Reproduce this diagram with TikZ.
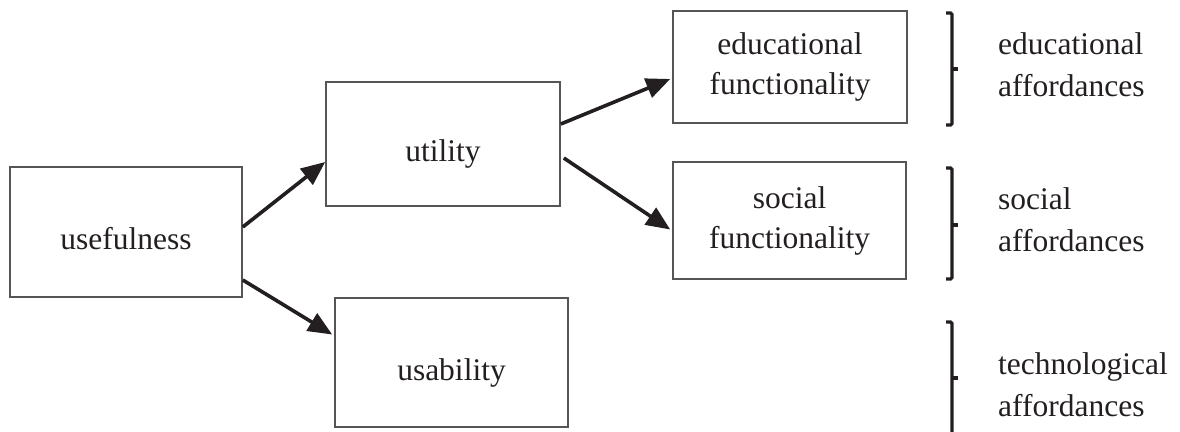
\documentclass[tikz,border=0pt]{standalone}
\usepackage{fontspec}
\setmainfont{Liberation Serif}
\usetikzlibrary{arrows.meta,calc}
\definecolor{ink}{RGB}{35,31,32}
\definecolor{frame}{RGB}{85,85,85}
\begin{document}
\begin{tikzpicture}[x=1pt,y=-1pt,
  txt/.style={font=\fontsize{31.5}{40}\selectfont, text=ink},
  box/.style={txt, draw=frame, line width=1.6pt, align=center, inner sep=0pt},
  oneline/.style={text height=35pt, text depth=0pt},
  link/.style={draw=ink, line width=3.6pt, -{Triangle[length=24pt,width=20pt]}},
  brace/.style={draw=ink, line width=3.2pt, rounded corners=1.5pt},
  aff/.style={font=\fontsize{31.5}{42}\selectfont, text=ink, align=left, anchor=west, inner sep=0pt}]
\useasboundingbox (0,0) rectangle (1180,431);

% boxes
\node[box, oneline, minimum width=232pt, minimum height=130pt] (useful) at (126,232) {usefulness};
\node[box, oneline, minimum width=234pt, minimum height=124pt] (utility) at (443,144) {utility};
\node[box, oneline, minimum width=233pt, minimum height=129pt] (usability) at (451.5,362.5) {usability};
\node[box, minimum width=234pt, minimum height=112pt] (edu) at (790,67) {educational\\functionality};
\node[box, minimum width=233pt, minimum height=117pt] (social) at (789.5,220.5) {social\\functionality};

% arrows
\draw[link] ($(useful.east)+(0,-5)$) -- ($(utility.west)+(0,18)$);
\draw[link] ($(useful.east)+(0,48)$) -- ($(usability.west)+(-2,-28)$);
\draw[link] ($(utility.east)+(0,-20)$) -- ($(edu.west)+(-2,12)$);
\draw[link] ($(utility.east)+(3,14)$) -- ($(social.west)+(-2,9)$);

% brackets
\draw[brace] (946,13) -- (952,13) -- (952,125) -- (946,125);
\draw[brace] (952,69) -- (958,69);
\draw[brace] (946,168) -- (952,168) -- (952,279) -- (946,279);
\draw[brace] (952,225) -- (958,225);
\draw[brace] (946,322) -- (952,322) -- (952,440);
\draw[brace] (952,378) -- (958,378);

% affordance labels
\node[aff] (affedu) at (998,65) {educational\\affordances};
\node[aff] (affsoc) at (998,220) {social\\affordances};
\node[aff] (afftech) at (998,385) {technological\\affordances};
\end{tikzpicture}
\end{document}
